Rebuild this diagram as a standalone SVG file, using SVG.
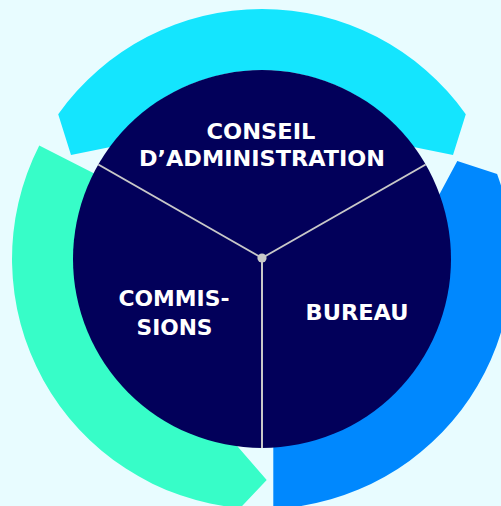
<svg xmlns="http://www.w3.org/2000/svg" width="501" height="506" viewBox="0 0 501 506">
  <style>
    .bg { fill: #e8fcff; }
    .seg-top { fill: #14e5fe; }
    .seg-left { fill: #37fdc8; }
    .seg-right { fill: #0088fe; }
    .core { fill: #02005a; }
    .spoke { stroke: #c8c8c8; stroke-width: 2; fill: none; }
    .hub { fill: #c8c8c8; }
    .label { font-family: "DejaVu Sans", "Liberation Sans", sans-serif; font-weight: bold; font-size: 20.5px; fill: #ffffff; text-anchor: middle; }
  </style>

  <rect class="bg" x="0" y="0" width="501" height="506"/>

  <!-- outer ring: three arrow-shaped bands around the core -->
  <g id="ring">
    <path id="ring-conseil" class="seg-top" d="M58.2,114.2 A250,250 0 0 1 465.8,114.2 L453,155 L413.5,147 A188,188 0 0 0 110.5,147 L71,155 Z"/>
    <path id="ring-commissions" class="seg-left" d="M39.25,145.5 A250,250 0 0 0 240.2,508 L266.7,480 L235,443.5 A186.6,186.6 0 0 1 95.7,174.3 Z"/>
    <path id="ring-bureau" class="seg-right" d="M273.3,508.7 A250,250 0 0 0 497.1,173.9 L457.3,161 L438,197 A186.3,186.3 0 0 1 273.3,444.7 Z"/>
  </g>

  <!-- central disc -->
  <circle id="core" class="core" cx="262" cy="259" r="189"/>

  <!-- spokes dividing the disc into three sectors -->
  <g id="connectors">
    <line class="spoke" x1="262" y1="258" x2="98.3" y2="164.5"/>
    <line class="spoke" x1="262" y1="258" x2="425.7" y2="164.5"/>
    <line class="spoke" x1="262" y1="258" x2="262" y2="448"/>
    <circle class="hub" cx="262" cy="258" r="4.6"/>
  </g>

  <g id="node-conseil">
    <text class="label" x="261" y="138.5" textLength="109" lengthAdjust="spacingAndGlyphs">CONSEIL</text>
    <text class="label" x="262" y="166" textLength="246" lengthAdjust="spacingAndGlyphs">D’ADMINISTRATION</text>
  </g>

  <g id="node-commissions">
    <text class="label" x="174" y="306" textLength="111" lengthAdjust="spacingAndGlyphs">COMMIS-</text>
    <text class="label" x="174.5" y="335" textLength="76" lengthAdjust="spacingAndGlyphs">SIONS</text>
  </g>

  <g id="node-bureau">
    <text class="label" x="357" y="320" textLength="103" lengthAdjust="spacingAndGlyphs">BUREAU</text>
  </g>
</svg>
